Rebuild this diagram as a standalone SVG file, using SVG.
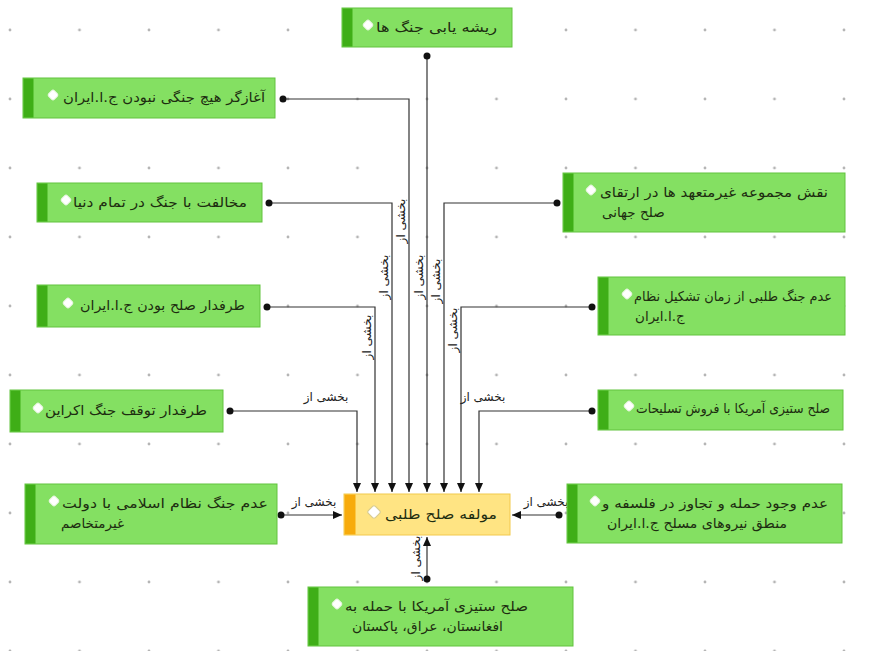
<svg xmlns="http://www.w3.org/2000/svg" width="874" height="651" viewBox="0 0 874 651">
<style>
.node{fill:#84e062;stroke:#62c33e;stroke-width:1}
.strip{fill:#3fae17}
.core{fill:#ffe483;stroke:#f2c94c;stroke-width:1}
.corestrip{fill:#f7ab0c}
.t{font-family:"DejaVu Sans",sans-serif;font-size:13.5px;fill:#1d2d10}
.lbl{font-family:"DejaVu Sans",sans-serif;font-size:12px;fill:#222}
.ln{fill:none;stroke:#333;stroke-width:1.2}
.dot{fill:#111}
</style>
<defs>
<pattern id="grid" x="10" y="30" width="69.5" height="69" patternUnits="userSpaceOnUse">
<circle cx="0" cy="0" r="1.4" fill="#b5b5b5"/><circle cx="69.5" cy="0" r="1.4" fill="#b5b5b5"/><circle cx="0" cy="69" r="1.4" fill="#b5b5b5"/><circle cx="69.5" cy="69" r="1.4" fill="#b5b5b5"/>
</pattern>
<g id="ic"><rect x="-4" y="-4" width="8" height="8" rx="2" transform="rotate(45)" fill="#fff" stroke="#e8f5e0" stroke-width="1"/></g>
<g id="icc"><rect x="-5" y="-5" width="10" height="10" rx="2" transform="rotate(45)" fill="#fff" stroke="#d8cc90" stroke-width="1.2"/></g>
<marker id="arr" markerWidth="10" markerHeight="10" refX="9" refY="5" orient="auto" markerUnits="userSpaceOnUse"><path d="M0,1 L9,5 L0,9 z" fill="#111"/></marker>
</defs>
<rect width="874" height="651" fill="#fff"/>
<rect width="874" height="651" fill="url(#grid)"/>

<g id="connectors">
<path class="ln" d="M427,56 V492" marker-end="url(#arr)"/>
<path class="ln" d="M283,99 H409 V492" marker-end="url(#arr)"/>
<path class="ln" d="M269,203 H392 V492" marker-end="url(#arr)"/>
<path class="ln" d="M267,307 H375 V492" marker-end="url(#arr)"/>
<path class="ln" d="M230,411 H357 V492" marker-end="url(#arr)"/>
<path class="ln" d="M557,203 H444 V492" marker-end="url(#arr)"/>
<path class="ln" d="M592,307 H461 V492" marker-end="url(#arr)"/>
<path class="ln" d="M592,411 H479 V492" marker-end="url(#arr)"/>
<path class="ln" d="M281,515 H342" marker-end="url(#arr)"/>
<path class="ln" d="M559,515 H512" marker-end="url(#arr)"/>
<path class="ln" d="M427,579 V537" marker-end="url(#arr)"/>
<circle class="dot" cx="427" cy="56" r="3.5"/>
<circle class="dot" cx="283" cy="99" r="3.5"/>
<circle class="dot" cx="269" cy="203" r="3.5"/>
<circle class="dot" cx="267" cy="307" r="3.5"/>
<circle class="dot" cx="230" cy="411" r="3.5"/>
<circle class="dot" cx="557" cy="203" r="3.5"/>
<circle class="dot" cx="592" cy="307" r="3.5"/>
<circle class="dot" cx="592" cy="411" r="3.5"/>
<circle class="dot" cx="281" cy="515" r="3.5"/>
<circle class="dot" cx="559" cy="515" r="3.5"/>
<circle class="dot" cx="427" cy="579" r="3.5"/>
<text class="lbl" text-anchor="middle" transform="translate(423,277) rotate(-90)">بخشی از</text>
<text class="lbl" text-anchor="middle" transform="translate(405,221) rotate(-90)">بخشی از</text>
<text class="lbl" text-anchor="middle" transform="translate(388,277) rotate(-90)">بخشی از</text>
<text class="lbl" text-anchor="middle" transform="translate(371,337) rotate(-90)">بخشی از</text>
<text class="lbl" text-anchor="middle" transform="translate(440,281) rotate(-90)">بخشی از</text>
<text class="lbl" text-anchor="middle" transform="translate(457,330) rotate(-90)">بخشی از</text>
<text class="lbl" text-anchor="middle" transform="translate(420,558) rotate(-90)">بخشی از</text>
<text class="lbl" text-anchor="middle" x="326" y="401">بخشی از</text>
<text class="lbl" text-anchor="middle" x="483" y="401">بخشی از</text>
<text class="lbl" text-anchor="middle" x="314" y="506">بخشی از</text>
<text class="lbl" text-anchor="middle" x="546" y="506">بخشی از</text>
</g>

<g id="n1"><rect class="node" x="342" y="8" width="170" height="39"/><rect class="strip" x="342.5" y="8.5" width="10" height="38"/><use href="#ic" x="368" y="25"/><text class="t" x="376" y="32" textLength="121" lengthAdjust="spacingAndGlyphs">ریشه یابی جنگ ها</text></g>
<g id="n2"><rect class="node" x="23" y="78" width="252" height="40"/><rect class="strip" x="23.5" y="78.5" width="10" height="39"/><use href="#ic" x="53" y="95"/><text class="t" x="63" y="102" textLength="202" lengthAdjust="spacingAndGlyphs">آغازگر هیچ جنگی نبودن ج.ا.ایران</text></g>
<g id="n3"><rect class="node" x="37" y="183" width="225" height="39"/><rect class="strip" x="37.5" y="183.5" width="10" height="38"/><use href="#ic" x="66" y="200"/><text class="t" x="73" y="207" textLength="174" lengthAdjust="spacingAndGlyphs">مخالفت با جنگ در تمام دنیا</text></g>
<g id="n4"><rect class="node" x="37" y="285" width="223" height="42"/><rect class="strip" x="37.5" y="285.5" width="10" height="41"/><use href="#ic" x="68" y="303"/><text class="t" x="80" y="310" textLength="165" lengthAdjust="spacingAndGlyphs">طرفدار صلح بودن ج.ا.ایران</text></g>
<g id="n5"><rect class="node" x="10" y="390" width="213" height="42"/><rect class="strip" x="10.5" y="390.5" width="10" height="41"/><use href="#ic" x="38" y="408"/><text class="t" x="45" y="415" textLength="162" lengthAdjust="spacingAndGlyphs">طرفدار توقف جنگ اکراین</text></g>
<g id="n6"><rect class="node" x="25" y="484" width="252" height="60"/><rect class="strip" x="25.5" y="484.5" width="10" height="59"/><use href="#ic" x="54" y="501"/><text class="t" x="62" y="508" textLength="206" lengthAdjust="spacingAndGlyphs">عدم جنگ نظام اسلامی با دولت</text><text class="t" x="61" y="528">غیرمتخاصم</text></g>
<g id="n7"><rect class="node" x="563" y="173" width="282" height="59"/><rect class="strip" x="563.5" y="173.5" width="10" height="58"/><use href="#ic" x="591" y="190"/><text class="t" x="600" y="197" textLength="228" lengthAdjust="spacingAndGlyphs">نقش مجموعه غیرمتعهد ها در ارتقای</text><text class="t" x="602" y="217">صلح جهانی</text></g>
<g id="n8"><rect class="node" x="598" y="277" width="247" height="58"/><rect class="strip" x="598.5" y="277.5" width="10" height="57"/><use href="#ic" x="627" y="294"/><text class="t" x="634" y="301" textLength="198" lengthAdjust="spacingAndGlyphs">عدم جنگ طلبی از زمان تشکیل نظام</text><text class="t" x="635" y="321">ج.ا.ایران</text></g>
<g id="n9"><rect class="node" x="598" y="390" width="245" height="40"/><rect class="strip" x="598.5" y="390.5" width="10" height="39"/><use href="#ic" x="629" y="406"/><text class="t" x="636" y="413" textLength="194" lengthAdjust="spacingAndGlyphs">صلح ستیزی آمریکا با فروش تسلیحات</text></g>
<g id="n10"><rect class="node" x="567" y="484" width="275" height="59"/><rect class="strip" x="567.5" y="484.5" width="10" height="58"/><use href="#ic" x="595" y="501"/><text class="t" x="602" y="508" textLength="226" lengthAdjust="spacingAndGlyphs">عدم وجود حمله و تجاوز در فلسفه و</text><text class="t" x="607" y="528" textLength="180" lengthAdjust="spacingAndGlyphs">منطق نیروهای مسلح ج.ا.ایران</text></g>
<g id="n11"><rect class="node" x="308" y="587" width="265" height="59"/><rect class="strip" x="308.5" y="587.5" width="10" height="58"/><use href="#ic" x="337" y="604"/><text class="t" x="345" y="611" textLength="183" lengthAdjust="spacingAndGlyphs">صلح ستیزی آمریکا با حمله به</text><text class="t" x="352" y="631" textLength="151" lengthAdjust="spacingAndGlyphs">افغانستان، عراق، پاکستان</text></g>
<g id="center"><rect class="core" x="344" y="494" width="166" height="41"/><rect class="corestrip" x="344.5" y="494.5" width="11" height="40"/><use href="#icc" x="374" y="512"/><text class="t" x="385" y="519" textLength="112" lengthAdjust="spacingAndGlyphs">مولفه صلح طلبی</text></g>
</svg>
